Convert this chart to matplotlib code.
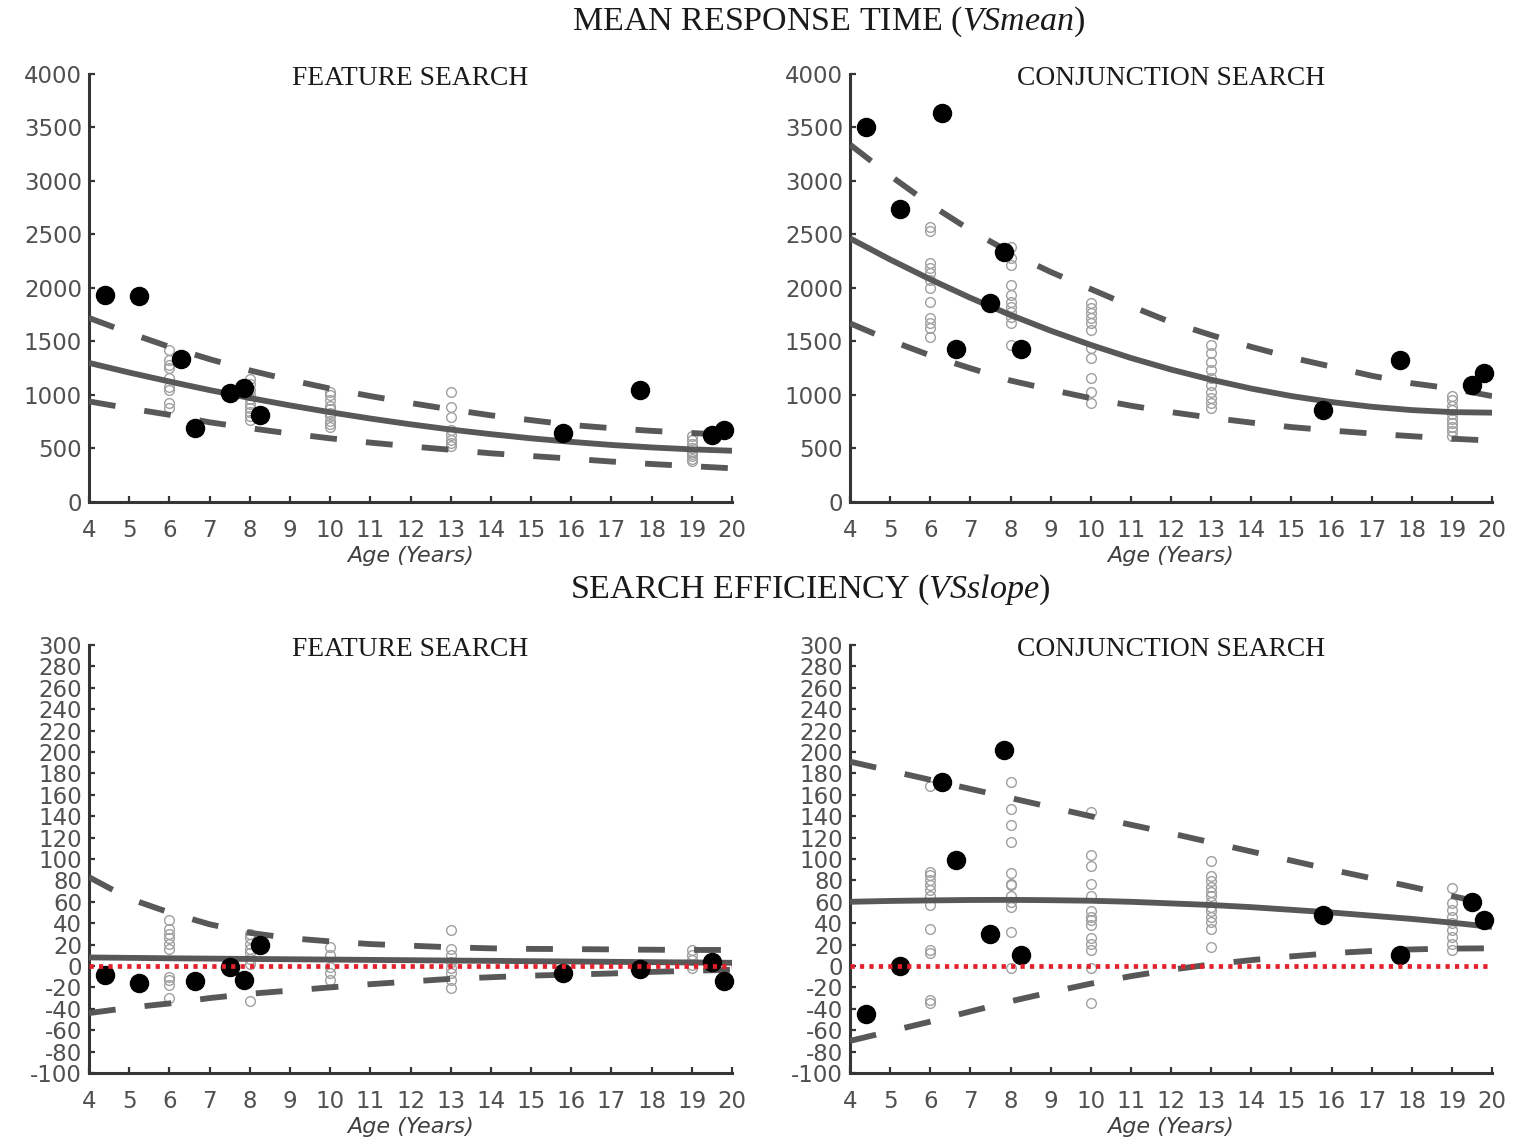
import numpy as np
import matplotlib
matplotlib.use("Agg")
import matplotlib.pyplot as plt

plt.rcParams['font.family'] = ['DejaVu Sans']
plt.rcParams['mathtext.fontset'] = 'custom'
plt.rcParams['mathtext.rm'] = 'Liberation Serif'
plt.rcParams['mathtext.it'] = 'Liberation Serif:italic'

# ---------------- data ----------------
AGES_FIT = list(range(4, 21))
X_TICKS = list(range(4, 21))
Y_TICKS_MEAN = list(range(0, 4001, 500))
Y_TICKS_SLOPE = list(range(-100, 301, 20))

DOT_AGES = [4.4, 5.25, 6.3, 6.65, 7.5, 7.85, 8.25, 15.8, 17.7, 19.5, 19.8]
FS_MEAN_DOTS = [1935, 1925, 1336, 692, 1019, 1065, 813, 645, 1047, 626, 673]
CS_MEAN_DOTS = [3505, 2738, 3636, 1430, 1860, 2336, 1430, 860, 1327, 1093, 1206]
FS_SLOPE_DOTS = [-8, -16, np.nan, -14, -1, -13, 20, -6.5, -3, 4, -14]
CS_SLOPE_DOTS = [-45, 0, 172, 99, 30, 202, 10, 48, 10, 60, 43]

FS_MEAN_FIT = [1300, 1210, 1126, 1046, 972, 903, 839, 780, 726, 677, 634, 595, 562, 533, 510, 492, 479]
FS_MEAN_UP = [1720, 1580, 1450, 1335, 1230, 1140, 1060, 990, 925, 865, 810, 765, 720, 690, 665, 645, 625]
FS_MEAN_LO = [940, 875, 815, 745, 690, 640, 595, 555, 520, 488, 455, 430, 405, 378, 355, 335, 315]

CS_MEAN_FIT = [2464, 2266, 2081, 1908, 1748, 1601, 1468, 1346, 1238, 1143, 1060, 990, 934, 890, 859, 840, 835]
CS_MEAN_UP = [3340, 3050, 2780, 2540, 2330, 2150, 1990, 1830, 1680, 1560, 1450, 1350, 1265, 1180, 1110, 1060, 990]
CS_MEAN_LO = [1670, 1510, 1370, 1250, 1135, 1050, 970, 900, 840, 788, 742, 700, 668, 640, 615, 592, 573]

FS_SLOPE_FIT = [8, 7.6, 7.2, 6.9, 6.6, 6.3, 6, 5.7, 5.4, 5.1, 4.8, 4.5, 4.2, 3.9, 3.6, 3.3, 3]
FS_SLOPE_UP = [83, 63, 50, 39, 31, 26, 23, 20.5, 19, 17.5, 16.5, 16, 15.8, 15.5, 15.2, 15, 15]
FS_SLOPE_LO = [-44, -39, -35, -30, -26, -23, -20, -17, -14.5, -12, -10.5, -9, -8, -7, -5.5, -4.5, -3.5]

CS_SLOPE_FIT = [60, 60.8, 61.3, 61.7, 61.8, 61.5, 61, 60, 58.5, 57, 55, 52.5, 50, 47, 44, 40.5, 36.5]
CS_SLOPE_UP = [191, 182.5, 174, 165.5, 157, 148.5, 140, 132, 124, 115.5, 107, 98.5, 90, 82, 74, 65.5, 57]
CS_SLOPE_LO = [-70, -61, -52, -42.5, -33, -24.5, -16.5, -9.5, -3.5, 1.5, 5.5, 9, 12, 14, 15.5, 16.3, 16.5]

# individual (open) data points: group ages and values per group
OPEN_AGES = [6, 8, 10, 13, 19]
FS_MEAN_OPEN = [
    [1421, 1327, 1280, 1252, 1159, 1075, 1047, 925, 879],
    [1150, 1100, 1050, 1000, 960, 920, 880, 840, 800, 770],
    [1030, 1000, 950, 900, 870, 830, 800, 760, 730, 700],
    [1031, 891, 797, 673, 626, 579, 551, 520],
    [620, 580, 540, 500, 470, 450, 430, 400, 380],
]
CS_MEAN_OPEN = [
    [2573, 2530, 2231, 2184, 2137, 2075, 1997, 1872, 1717, 1670, 1623, 1545],
    [2386, 2280, 2215, 2028, 1935, 1872, 1825, 1779, 1732, 1670, 1467],
    [1857, 1810, 1763, 1717, 1670, 1607, 1436, 1343, 1156, 1031, 922],
    [1467, 1390, 1311, 1234, 1156, 1093, 1031, 969, 922, 876],
    [990, 950, 900, 860, 820, 780, 740, 700, 660, 620],
]
FS_SLOPE_OPEN = [
    [43, 35, 30, 26, 21, 16, -10, -13, -18, -30],
    [30, 26, 21, 16, 12, 7, 2, -33],
    [18, 10, -1, -7, -13],
    [34, 16, 10, 4, -2, -7, -13, -21],
    [15, 10, 6, 1, -2],
]
CS_SLOPE_OPEN = [
    [168, 88, 85, 80, 76, 71, 65, 57, 35, 15, 12, -32, -35],
    [172, 147, 132, 116, 87, 77, 76, 65, 60, 55, 32, -2],
    [144, 104, 93, 77, 65, 51, 46, 43, 38, 26, 21, 15, -2, -35],
    [98, 84, 79, 74, 69, 65, 60, 55, 51, 46, 41, 35, 18],
    [73, 59, 52, 46, 40, 34, 27, 21, 15],
]

TITLE_TOP = r"MEAN RESPONSE TIME ($\mathit{VSmean}$)"
TITLE_BOTTOM = r"SEARCH EFFICIENCY ($\mathit{VSslope}$)"
PANEL_TITLES = ["FEATURE SEARCH", "CONJUNCTION SEARCH"]
XLABEL = "Age (Years)"

# ---------------- figure ----------------
W, H = 1513, 1144
fig = plt.figure(figsize=(W / 100, H / 100), dpi=100)

def ax_rect(x0, x1, y0, y1):
    return [x0 / W, 1 - y1 / H, (x1 - x0) / W, (y1 - y0) / H]

LINE_C = '#585858'
SPINE_C = '#353535'
TICKLAB_C = '#505050'
DASH = (0, (4.6, 5.0))

panels = [
    (ax_rect(89, 732, 74, 502), FS_MEAN_DOTS, FS_MEAN_FIT, FS_MEAN_UP, FS_MEAN_LO, FS_MEAN_OPEN, (0, 4000), Y_TICKS_MEAN, PANEL_TITLES[0], False),
    (ax_rect(850, 1492, 74, 502), CS_MEAN_DOTS, CS_MEAN_FIT, CS_MEAN_UP, CS_MEAN_LO, CS_MEAN_OPEN, (0, 4000), Y_TICKS_MEAN, PANEL_TITLES[1], False),
    (ax_rect(89, 732, 645, 1073), FS_SLOPE_DOTS, FS_SLOPE_FIT, FS_SLOPE_UP, FS_SLOPE_LO, FS_SLOPE_OPEN, (-100, 300), Y_TICKS_SLOPE, PANEL_TITLES[0], True),
    (ax_rect(850, 1492, 645, 1073), CS_SLOPE_DOTS, CS_SLOPE_FIT, CS_SLOPE_UP, CS_SLOPE_LO, CS_SLOPE_OPEN, (-100, 300), Y_TICKS_SLOPE, PANEL_TITLES[1], True),
]

for rect, dots, fit, up, lo, opens, ylim, yticks, ptitle, zero_line in panels:
    ax = fig.add_axes(rect)
    # open circles
    for age, vals in zip(OPEN_AGES, opens):
        ax.plot([age] * len(vals), vals, linestyle='none', marker='o', ms=7,
                mfc='none', mec='#a0a0a0', mew=1.0, zorder=2, clip_on=False)
    # fit and confidence lines
    ax.plot(AGES_FIT, fit, color=LINE_C, lw=4.2, solid_capstyle='butt', zorder=3)
    ax.plot(AGES_FIT, up, color=LINE_C, lw=4.2, linestyle=DASH,
            dash_capstyle='butt', zorder=3)
    ax.plot(AGES_FIT, lo, color=LINE_C, lw=4.2, linestyle=DASH,
            dash_capstyle='butt', zorder=3)
    # group mean dots
    ax.plot(DOT_AGES, dots, linestyle='none', marker='o', ms=13,
            mfc='black', mec='black', zorder=4, clip_on=False)
    if zero_line:
        ax.plot([X_TICKS[0], X_TICKS[-1]], [0, 0], color='#e3202b', lw=3.4,
                linestyle=(0, (0.9, 1.1)), zorder=5)

    ax.set_xlim(4, 20)
    ax.set_ylim(*ylim)
    ax.set_xticks(X_TICKS)
    ax.set_yticks(yticks)
    ax.set_xticklabels([str(t) for t in X_TICKS])
    ax.set_yticklabels([str(t) for t in yticks])
    for s in ['top', 'right']:
        ax.spines[s].set_visible(False)
    for s in ['left', 'bottom']:
        ax.spines[s].set_color(SPINE_C)
        ax.spines[s].set_linewidth(2.2)
    ax.tick_params(axis='both', direction='in', length=4.5, width=1.6,
                   color=SPINE_C, labelcolor=TICKLAB_C, labelsize=16.5)
    ax.tick_params(axis='x', pad=12)
    ax.tick_params(axis='y', pad=5)
    ax.set_xlabel(XLABEL, fontsize=16, style='italic', color='#404040', labelpad=3)
    ax.text(0.5, 0.99, ptitle, transform=ax.transAxes, ha='center', va='center',
            fontsize=19.8, family='Liberation Serif', color='#1a1a1a')

fig.text(829 / W, 1 - 22 / H, TITLE_TOP, ha='center', va='center',
         fontsize=24.5, family='Liberation Serif', color='#1a1a1a')
fig.text(810 / W, 1 - 590 / H, TITLE_BOTTOM, ha='center', va='center',
         fontsize=24.5, family='Liberation Serif', color='#1a1a1a')

fig.savefig('out.png', dpi=100, facecolor='white')
